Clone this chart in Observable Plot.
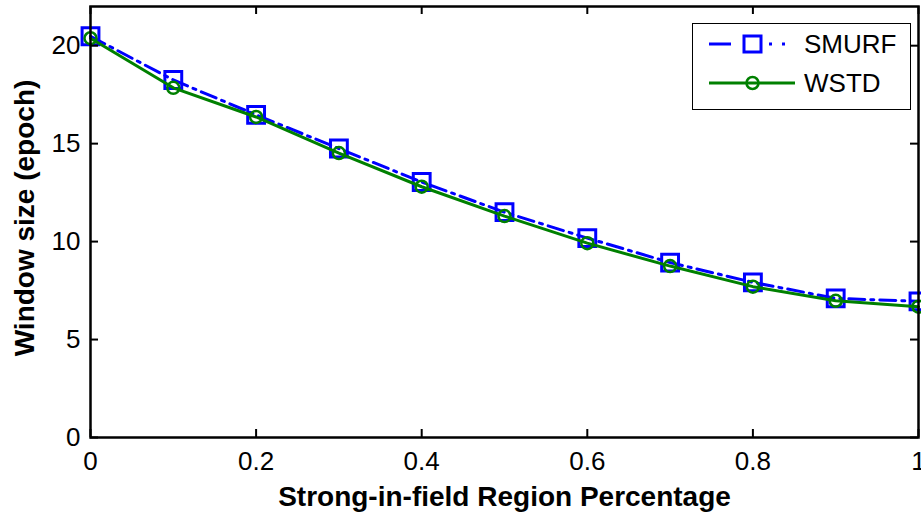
<!DOCTYPE html>
<html><head><meta charset="utf-8">
<script src="https://cdn.jsdelivr.net/npm/d3@7"></script>
<script src="https://cdn.jsdelivr.net/npm/@observablehq/plot@0.6"></script>
<style>
body{margin:0;background:#fff;font-family:"Liberation Sans",Arial,sans-serif}
#wrap{position:relative;width:921px;height:515px}
#legend{position:absolute;left:692px;top:23px;width:219px;height:87px;box-sizing:border-box;border:1.5px solid #000;background:#fff}
</style>
</head><body><div id="wrap"></div>
<script>
// Data
const xs = [0, 0.1, 0.2, 0.3, 0.4, 0.5, 0.6, 0.7, 0.8, 0.9, 1.0];
const smurf = [20.48, 18.25, 16.47, 14.75, 13.04, 11.5, 10.18, 8.93, 7.92, 7.1, 6.95];
const wstd = [20.38, 17.85, 16.36, 14.52, 12.8, 11.3, 9.92, 8.75, 7.7, 6.98, 6.68];
const seriesNames = ["SMURF", "WSTD"];
const xTicks = [0, 0.2, 0.4, 0.6, 0.8, 1];
const xTickLabels = ["0", "0.2", "0.4", "0.6", "0.8", "1"];
const yTicks = [0, 5, 10, 15, 20];
const xLabel = "Strong-in-field Region Percentage";
const yLabel = "Window size (epoch)";

const blue = "#0000ff", green = "#008000";
const width = 921, height = 515, mL = 90, mR = 3, mT = 6, mB = 78;
const W = width - mL - mR, H = height - mT - mB;
const sm = xs.map((x, i) => ({x, y: smurf[i]}));
const ws = xs.map((x, i) => ({x, y: wstd[i]}));
const font = "Liberation Sans, Arial, sans-serif";

const chart = Plot.plot({
  width, height, marginLeft: mL, marginRight: mR, marginTop: mT, marginBottom: mB,
  style: {fontFamily: font, background: "white", color: "black"},
  x: {domain: [0, 1]},
  y: {domain: [0, 22]},
  marks: [
    Plot.line(sm, {x: "x", y: "y", stroke: blue, strokeWidth: 3, strokeDasharray: "16,6,3,6"}),
    Plot.dot(sm, {x: "x", y: "y", symbol: "square", r: 9.5, stroke: blue, strokeWidth: 3, fill: "none"}),
    Plot.line(ws, {x: "x", y: "y", stroke: green, strokeWidth: 3}),
    Plot.dot(ws, {x: "x", y: "y", r: 6, stroke: green, strokeWidth: 2.5, fill: "none"}),
    Plot.tickX(xTicks, {x: d => d, insetTop: H - 8, strokeWidth: 2, stroke: "black"}),
    Plot.tickX(xTicks, {x: d => d, insetBottom: H - 8, strokeWidth: 2, stroke: "black"}),
    Plot.tickY(yTicks, {y: d => d, insetRight: W - 8, strokeWidth: 2, stroke: "black"}),
    Plot.tickY(yTicks, {y: d => d, insetLeft: W - 8, strokeWidth: 2, stroke: "black"}),
    Plot.frame({stroke: "black", strokeWidth: 2.5}),
    Plot.axisX({ticks: xTicks, tickSize: 0, tickPadding: 14, fontSize: 26, label: null,
      tickFormat: d => xTickLabels[xTicks.indexOf(d)]}),
    Plot.axisY({ticks: yTicks, tickSize: 0, tickPadding: 10, fontSize: 26, label: null}),
    Plot.text([xLabel], {text: d => d, frameAnchor: "bottom", dy: 60, textAnchor: "middle", lineAnchor: "middle",
      fontSize: 28, fontWeight: "bold", fill: "black"}),
    Plot.text([yLabel], {text: d => d, frameAnchor: "left", dx: -65, dy: -4, rotate: -90, textAnchor: "middle", lineAnchor: "middle",
      fontSize: 28, fontWeight: "bold", fill: "black"})
  ]
});
const wrap = document.getElementById("wrap");
wrap.appendChild(chart);

// Legend (overlay inside the plot area, top-right)
const leg = d3.select(wrap).append("div").attr("id", "legend");
const svg = leg.append("svg").attr("width", 216).attr("height", 84).style("display", "block");
const rowsY = [20, 59];
// SMURF row
svg.append("line").attr("x1", 16).attr("x2", 102).attr("y1", rowsY[0]).attr("y2", rowsY[0])
  .attr("stroke", blue).attr("stroke-width", 3).attr("stroke-dasharray", "22,38,3,10,3,10");
svg.append("rect").attr("x", 51).attr("y", rowsY[0] - 8).attr("width", 17).attr("height", 16)
  .attr("fill", "none").attr("stroke", blue).attr("stroke-width", 3);
// WSTD row
svg.append("line").attr("x1", 16).attr("x2", 102).attr("y1", rowsY[1]).attr("y2", rowsY[1])
  .attr("stroke", green).attr("stroke-width", 3);
svg.append("circle").attr("cx", 59.5).attr("cy", rowsY[1]).attr("r", 6)
  .attr("fill", "none").attr("stroke", green).attr("stroke-width", 2.5);
seriesNames.forEach((n, i) => {
  svg.append("text").attr("x", 111).attr("y", rowsY[i]).attr("dy", "0.36em")
    .attr("font-family", font).attr("font-size", 26).attr("fill", "#000").text(n);
});
</script>
</body></html>
